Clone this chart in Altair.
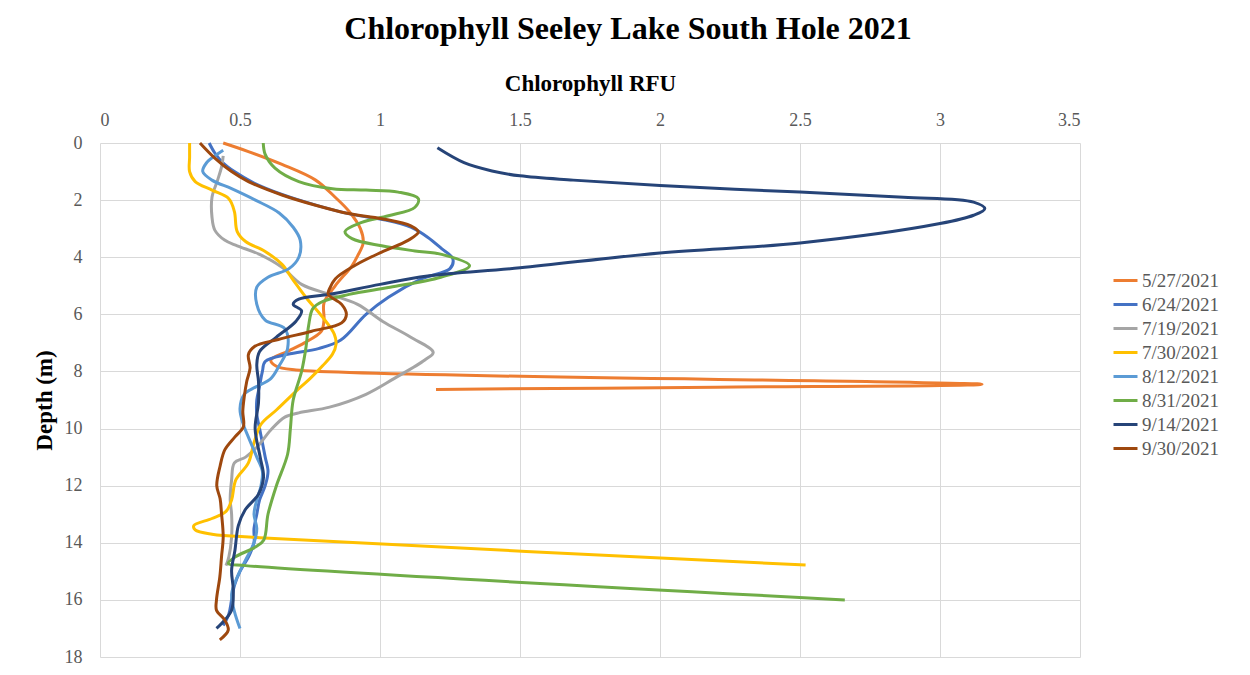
import altair as alt
import pandas as pd

dates = ["5/27/2021", "6/24/2021", "7/19/2021", "7/30/2021",
         "8/12/2021", "8/31/2021", "9/14/2021", "9/30/2021"]
colors = ["#ED7D31", "#4472C4", "#A5A5A5", "#FFC000",
          "#5B9BD5", "#70AD47", "#264478", "#9E480E"]

d_0527 = [0, 0.3, 0.75, 1.3, 1.9, 2.4, 3.0, 3.5, 3.95, 4.3, 5.0, 5.6, 6.2, 6.6, 7.0, 7.3, 7.6, 7.82, 7.95, 8.45, 8.55, 8.63]
v_0527 = [0.44, 0.53, 0.65, 0.77, 0.84, 0.89, 0.93, 0.94, 0.92, 0.9, 0.84, 0.8, 0.8, 0.79, 0.73, 0.67, 0.61, 0.63, 0.7, 3.15, 2.2, 1.2]

d_0624 = [0, 0.35, 0.7, 1.0, 1.4, 1.8, 2.2, 2.5, 2.7, 2.95, 3.3, 3.7, 4.05, 4.4, 4.75, 5.4, 6.0, 6.9, 7.2, 7.4, 7.65, 8.0, 8.5, 9.0, 9.5, 10.0, 10.5, 11.0, 11.5, 12.0, 12.5, 13.0, 13.5, 14.0, 14.5, 15.0, 15.5, 16.0, 16.5, 16.9]
v_0624 = [0.39, 0.41, 0.44, 0.48, 0.55, 0.65, 0.78, 0.9, 1.02, 1.11, 1.17, 1.22, 1.26, 1.25, 1.15, 1.03, 0.95, 0.86, 0.78, 0.67, 0.59, 0.58, 0.57, 0.56, 0.56, 0.57, 0.58, 0.59, 0.6, 0.59, 0.57, 0.56, 0.55, 0.55, 0.53, 0.5, 0.48, 0.47, 0.46, 0.44]

d_0719 = [0.45, 0.8, 1.3, 1.9, 2.6, 3.05, 3.4, 3.6, 3.9, 4.35, 4.95, 5.3, 5.65, 6.25, 6.8, 7.33, 7.6, 8.25, 8.8, 9.25, 9.45, 9.6, 10.05, 10.6, 11.0, 11.2, 11.8, 12.5, 13.0, 13.8, 14.5, 14.8]
v_0719 = [0.44, 0.435, 0.42, 0.40, 0.40, 0.41, 0.445, 0.49, 0.57, 0.65, 0.72, 0.82, 0.92, 1.01, 1.11, 1.19, 1.16, 1.05, 0.95, 0.82, 0.71, 0.66, 0.61, 0.565, 0.52, 0.48, 0.47, 0.465, 0.47, 0.47, 0.46, 0.45]

d_0730 = [0, 0.5, 1.0, 1.35, 1.65, 1.95, 2.4, 3.1, 3.45, 3.8, 4.25, 4.8, 5.4, 6.1, 6.7, 7.05, 7.4, 7.8, 8.25, 8.6, 9.35, 9.85, 10.5, 11.2, 11.8, 12.5, 12.9, 13.15, 13.4, 13.55, 13.7, 13.82, 14.78]
v_0730 = [0.32, 0.32, 0.32, 0.34, 0.40, 0.46, 0.48, 0.49, 0.52, 0.59, 0.65, 0.69, 0.735, 0.795, 0.837, 0.843, 0.83, 0.795, 0.75, 0.71, 0.63, 0.575, 0.55, 0.53, 0.485, 0.47, 0.45, 0.40, 0.335, 0.34, 0.40, 0.57, 2.52]

d_0812 = [0.25, 0.45, 0.7, 1.0, 1.3, 1.6, 2.0, 2.45, 2.95, 3.4, 4.0, 4.4, 4.7, 5.05, 5.65, 6.2, 6.5, 7.2, 7.8, 8.25, 8.55, 8.8, 9.3, 9.8, 10.3, 11.0, 11.5, 12.0, 12.5, 13.0, 13.5, 14.0, 14.6, 15.2, 15.8, 16.4, 17.0]
v_0812 = [0.44, 0.41, 0.38, 0.367, 0.40, 0.47, 0.555, 0.64, 0.69, 0.715, 0.71, 0.675, 0.60, 0.56, 0.56, 0.59, 0.66, 0.67, 0.64, 0.61, 0.555, 0.515, 0.50, 0.51, 0.53, 0.56, 0.58, 0.575, 0.56, 0.55, 0.56, 0.55, 0.52, 0.49, 0.47, 0.48, 0.50]

d_0831 = [0, 0.4, 0.88, 1.35, 1.6, 1.65, 1.72, 1.95, 2.25, 2.55, 2.78, 3.1, 3.35, 3.6, 3.78, 3.9, 4.3, 4.7, 5.05, 5.3, 5.55, 5.8, 6.4, 7.2, 8.0, 9.0, 10.0, 10.9, 12.0, 13.0, 13.9, 14.15, 14.5, 14.72, 14.8, 16.0]
v_0831 = [0.583, 0.59, 0.625, 0.71, 0.83, 0.95, 1.065, 1.137, 1.125, 1.03, 0.935, 0.875, 0.9, 1.006, 1.125, 1.22, 1.32, 1.217, 1.036, 0.89, 0.795, 0.76, 0.745, 0.735, 0.72, 0.69, 0.68, 0.67, 0.63, 0.60, 0.585, 0.555, 0.482, 0.458, 0.52, 2.66]

d_0914 = [0.17, 0.69, 0.98, 1.15, 1.30, 1.49, 1.72, 1.9, 2.07, 2.3, 2.53, 2.82, 3.5, 3.85, 4.37, 4.66, 4.95, 5.3, 5.47, 5.65, 5.88, 6.24, 6.8, 7.3, 7.76, 8.35, 9.1, 10.0, 11.0, 11.7, 12.3, 12.85, 13.4, 14.26, 14.96, 15.66, 16.36, 16.83, 17.0]
v_0914 = [1.205, 1.30, 1.40, 1.5, 1.69, 2.0, 2.5, 2.87, 3.12, 3.16, 3.12, 3.0, 2.5, 2.0, 1.5, 1.17, 1.0, 0.82, 0.71, 0.69, 0.72, 0.70, 0.63, 0.57, 0.56, 0.566, 0.566, 0.554, 0.572, 0.584, 0.566, 0.518, 0.494, 0.482, 0.47, 0.476, 0.47, 0.434, 0.416]

d_0930 = [0, 0.53, 1.0, 1.35, 1.82, 2.18, 2.47, 2.65, 2.9, 3.12, 3.41, 3.82, 4.29, 4.76, 5.1, 5.3, 5.65, 6.0, 6.3, 6.59, 6.88, 7.12, 7.41, 7.88, 8.35, 8.9, 9.4, 9.94, 10.29, 10.74, 11.31, 12.0, 12.46, 12.97, 13.79, 14.49, 15.19, 16.0, 16.36, 16.71, 17.06, 17.4]
v_0930 = [0.357, 0.41, 0.47, 0.53, 0.65, 0.77, 0.887, 1.006, 1.11, 1.137, 1.1, 1.006, 0.91, 0.84, 0.82, 0.815, 0.863, 0.88, 0.863, 0.756, 0.637, 0.553, 0.53, 0.536, 0.524, 0.515, 0.51, 0.512, 0.482, 0.446, 0.429, 0.417, 0.429, 0.434, 0.44, 0.434, 0.428, 0.416, 0.416, 0.446, 0.458, 0.428]

x_ticks = [0, 0.5, 1, 1.5, 2, 2.5, 3, 3.5]
y_ticks = [0, 2, 4, 6, 8, 10, 12, 14, 16, 18]

series = [
    (dates[0], d_0527, v_0527), (dates[1], d_0624, v_0624),
    (dates[2], d_0719, v_0719), (dates[3], d_0730, v_0730),
    (dates[4], d_0812, v_0812), (dates[5], d_0831, v_0831),
    (dates[6], d_0914, v_0914), (dates[7], d_0930, v_0930),
]
rows = []
for name, ds, vs in series:
    for i, (d, v) in enumerate(zip(ds, vs)):
        rows.append({"series": name, "depth": d, "value": v, "i": i})
df = pd.DataFrame(rows)

FONT = "Liberation Serif"

chart = alt.Chart(df).mark_line(strokeWidth=3, interpolate="catmull-rom").encode(
    x=alt.X("value:Q",
            scale=alt.Scale(domain=[0, 3.5], nice=False, zero=False),
            axis=alt.Axis(orient="top", values=x_ticks, format="~g",
                          title="Chlorophyll RFU", labelPadding=14,
                          titlePadding=16)),
    y=alt.Y("depth:Q",
            scale=alt.Scale(domain=[0, 18], reverse=True, nice=False),
            axis=alt.Axis(values=y_ticks, format="d", title="Depth (m)",
                          labelPadding=18, titlePadding=8)),
    color=alt.Color("series:N",
                    scale=alt.Scale(domain=dates, range=colors),
                    legend=alt.Legend(title=None, orient="none",
                                      legendX=1012, legendY=124,
                                      symbolType="stroke", symbolSize=576,
                                      symbolStrokeWidth=3,
                                      labelFont=FONT, labelFontSize=19,
                                      labelColor="#595959", rowPadding=0,
                                      labelOffset=3)),
    order=alt.Order("i:Q"),
).properties(
    width=980,
    height=514,
    autosize=alt.AutoSizeParams(type="none"),
    padding={"left": 92, "top": 135, "right": 160, "bottom": 10},
    background="white",
    title=alt.TitleParams("Chlorophyll Seeley Lake South Hole 2021",
                          font=FONT, fontSize=32, fontWeight="bold",
                          color="#000000", anchor="middle", dx=38,
                          offset=26),
).configure_axis(
    domain=False, ticks=False, gridColor="#D9D9D9", gridWidth=1,
    labelFont=FONT, labelFontSize=18, labelColor="#595959",
    titleFont=FONT, titleFontSize=23, titleFontWeight="bold",
    titleColor="#000000",
).configure_view(stroke=None)

chart.save("out.html", embed_options={"renderer": "svg", "actions": False})
